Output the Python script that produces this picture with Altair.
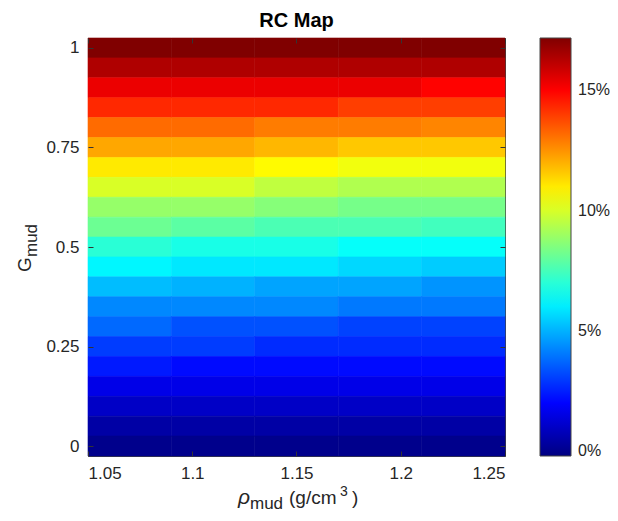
import altair as alt
import pandas as pd

# ---- data ----
rho_edges = [1.05, 1.09, 1.13, 1.17, 1.21, 1.25]          # column edges of rho_mud (g/cm3)
g_levels = [1.00, 0.95, 0.90, 0.85, 0.80, 0.75, 0.70, 0.65, 0.60, 0.55, 0.50,
            0.45, 0.40, 0.35, 0.30, 0.25, 0.20, 0.15, 0.10, 0.05, 0.00]
# RC in percent, one list per G row, one value per rho column
rc_pct = [
    [17.17, 17.17, 17.17, 17.17, 17.17],
    [16.36, 16.36, 16.36, 16.36, 16.36],
    [15.32, 15.32, 15.32, 15.32, 14.97],
    [14.32, 14.32, 14.32, 13.95, 13.95],
    [13.17, 13.17, 12.88, 12.88, 12.74],
    [12.16, 12.16, 11.88, 11.59, 11.59],
    [11.02, 11.02, 10.73, 10.44, 10.44],
    [10.01, 10.01, 9.58, 9.31, 9.31],
    [8.86, 8.86, 8.59, 8.33, 8.33],
    [8.16, 7.86, 7.59, 7.59, 7.42],
    [7.01, 6.73, 6.73, 6.40, 6.40],
    [6.18, 5.92, 5.92, 5.65, 5.45],
    [5.19, 5.01, 4.77, 4.77, 4.50],
    [4.29, 4.29, 4.29, 4.03, 4.03],
    [3.76, 3.35, 3.35, 3.09, 3.09],
    [3.00, 3.00, 2.71, 2.71, 2.71],
    [2.40, 2.15, 2.15, 2.15, 2.15],
    [1.58, 1.58, 1.58, 1.58, 1.58],
    [1.00, 1.00, 1.00, 1.00, 1.00],
    [0.43, 0.43, 0.43, 0.43, 0.43],
    [0.00, 0.00, 0.00, 0.00, 0.00],
]
x_ticks = [1.05, 1.1, 1.15, 1.2, 1.25]
y_ticks = [0, 0.25, 0.5, 0.75, 1]
cbar_ticks = [0, 0.05, 0.10, 0.15]
rc_min, rc_max = -0.002, 0.1717

rows = []
for g, vals in zip(g_levels, rc_pct):
    for i, v in enumerate(vals):
        rows.append({"rho_lo": rho_edges[i], "rho_hi": rho_edges[i + 1],
                     "G": g, "rc": v / 100.0})
df = pd.DataFrame(rows)

# jet colormap anchors
jet_pos = [0, 1 / 8, 3 / 8, 5 / 8, 7 / 8, 1]
jet_col = ["#000080", "#0000ff", "#00ffff", "#ffff00", "#ff0000", "#800000"]
jet_dom = [rc_min + p * (rc_max - rc_min) for p in jet_pos]

FONT = "Liberation Sans"
TXT = "#262626"
W, H = 417, 418

xscale = alt.Scale(domain=[1.05, 1.25], nice=False, zero=False)
yscale = alt.Scale(domain=[-0.025, 1.025], nice=False, zero=False)

ax_common = dict(title=None, offset=-5, tickSize=5, domain=False, grid=False,
                 tickColor="#333333", tickWidth=1, zindex=1,
                 labelFont=FONT, labelFontSize=17, labelColor=TXT, labelPadding=9)

base = alt.Chart(df).transform_calculate(
    y0="datum.G - 0.025", y1="datum.G + 0.025"
)

heat = base.mark_rect(
    strokeWidth=0.6, stroke={"expr": "scale('color', datum.rc)"}
).encode(
    x=alt.X("rho_lo:Q", scale=xscale,
            axis=alt.Axis(values=x_ticks, format=".2~f", **ax_common)),
    x2="rho_hi:Q",
    y=alt.Y("y0:Q", scale=yscale,
            axis=alt.Axis(values=y_ticks, format=".2~f", **ax_common)),
    y2="y1:Q",
    color=alt.Color(
        "rc:Q",
        scale=alt.Scale(domain=jet_dom, range=jet_col, interpolate="rgb"),
        legend=alt.Legend(
            type="gradient",
            orient="none", legendX=452, legendY=0, direction="vertical",
            gradientLength=H, gradientThickness=31, title=None,
            values=cbar_ticks, format=".0%", labelFont=FONT, labelFontSize=16,
            labelColor=TXT, labelOffset=7,
            gradientStrokeColor="#444444", gradientStrokeWidth=1, padding=0,
        ),
    ),
)

frame = base.mark_rect(opacity=0).encode(
    x=alt.X("rho_lo:Q", scale=xscale,
            axis=alt.Axis(values=x_ticks, orient="top", labels=False, **ax_common)),
    x2="rho_hi:Q",
    y=alt.Y("y0:Q", scale=yscale,
            axis=alt.Axis(values=y_ticks, orient="right", labels=False, **ax_common)),
    y2="y1:Q",
)


def txt(s, x, y, size, **kw):
    return alt.Chart(pd.DataFrame({"s": [s]})).mark_text(
        font=FONT, fontSize=size, color=kw.pop("color", TXT), align=kw.pop("align", "left"),
        baseline="alphabetic", **kw
    ).encode(text="s:N", x=alt.value(x), y=alt.value(y))


title = txt("RC Map", W / 2, -11, 20, fontWeight="bold", color="#000000", align="center")
xl_rho = txt("ρ", 150, 466, 21, fontStyle="italic")
xl_sub = txt("mud", 162, 471, 17)
xl_unit = txt("(g/cm", 201, 466, 19)
xl_sup = txt("3", 252, 458, 14)
xl_close = txt(")", 264, 466, 19)
yl_g = txt("G", -57, 234, 19, angle=270)
yl_sub = txt("mud", -51, 219, 17, angle=270)

chart = alt.layer(
    heat, frame, title, xl_rho, xl_sub, xl_unit, xl_sup, xl_close, yl_g, yl_sub
).resolve_axis(
    x="independent", y="independent"
).properties(
    width=W, height=H,
    autosize=alt.AutoSizeParams(type="none"),
    padding={"left": 80, "top": 30, "right": 105, "bottom": 57},
).configure_view(
    stroke="#404040", strokeWidth=1
)

chart.save("out.html", embed_options={"renderer": "svg", "actions": False})
